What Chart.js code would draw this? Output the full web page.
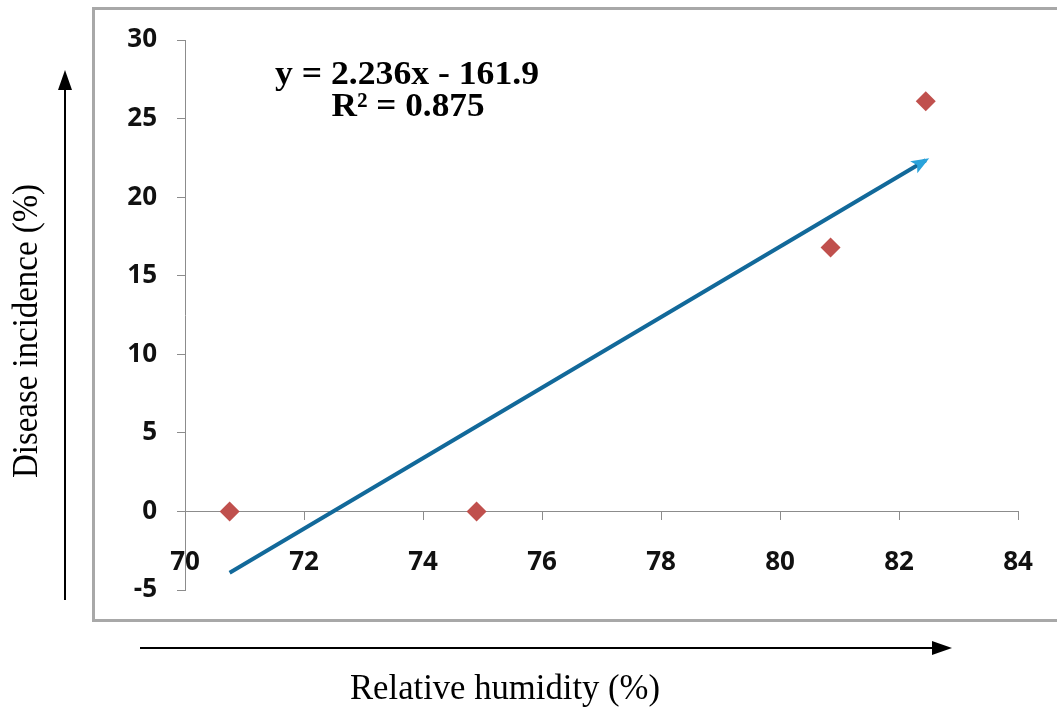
<!DOCTYPE html>
<html>
<head>
<meta charset="utf-8">
<script src="https://cdn.jsdelivr.net/npm/chart.js@4/dist/chart.umd.min.js"></script>
<style>
  html, body { margin: 0; padding: 0; background: #fff; }
  #wrap { width: 1057px; height: 711px; position: relative; }
</style>
</head>
<body>
<div id="wrap"><canvas id="chart"></canvas></div>
<script>
// observed points
const humidity = [70.75, 74.9, 80.85, 82.45];
const incidence = [0, 0, 16.8, 26.1];

// linear trend line, end points
const trendX = [70.75, 82.45];
const trendY = [-3.9, 22.35];

const xTicks = [70, 72, 74, 76, 78, 80, 82, 84];
const yTicks = [-5, 0, 5, 10, 15, 20, 25, 30];

const equationText = 'y = 2.236x - 161.9';
const r2Text = 'R² = 0.875';
const xTitle = 'Relative humidity (%)';
const yTitle = 'Disease incidence (%)';

const axisGray = '#8c8c8c';

const drawArrow = (ctx, x1, y1, x2, y2, headLen, headHalf) => {
  const ang = Math.atan2(y2 - y1, x2 - x1);
  ctx.beginPath();
  ctx.moveTo(x1, y1);
  ctx.lineTo(x2 - Math.cos(ang) * headLen * 0.8, y2 - Math.sin(ang) * headLen * 0.8);
  ctx.stroke();
  ctx.beginPath();
  ctx.moveTo(x2, y2);
  ctx.lineTo(x2 - Math.cos(ang) * headLen - Math.sin(ang) * headHalf,
             y2 - Math.sin(ang) * headLen + Math.cos(ang) * headHalf);
  ctx.lineTo(x2 - Math.cos(ang) * headLen + Math.sin(ang) * headHalf,
             y2 - Math.sin(ang) * headLen - Math.cos(ang) * headHalf);
  ctx.closePath();
  ctx.fill();
};

const fitText = (ctx, text, x, y, width) => {
  const w = ctx.measureText(text).width;
  ctx.save();
  ctx.translate(x, y);
  ctx.scale(width / w, 1);
  ctx.fillText(text, 0, 0);
  ctx.restore();
};

const decorations = {
  id: 'decorations',
  beforeDraw(chart) {
    const ctx = chart.ctx;
    ctx.save();
    ctx.strokeStyle = '#a8a8a8';
    ctx.lineWidth = 3;
    ctx.strokeRect(93.5, 8.5, 1000, 612);
    ctx.restore();
  },
  afterDatasetsDraw(chart) {
    const ctx = chart.ctx;
    // arrow head on the trend line
    const pts = chart.getDatasetMeta(1).data;
    const a = pts[0], b = pts[pts.length - 1];
    const ang = Math.atan2(b.y - a.y, b.x - a.x);
    ctx.save();
    ctx.fillStyle = '#2aa3db';
    ctx.beginPath();
    ctx.moveTo(b.x + Math.cos(ang) * 4, b.y + Math.sin(ang) * 4);
    ctx.lineTo(b.x - Math.cos(ang) * 14 - Math.sin(ang) * 7, b.y - Math.sin(ang) * 14 + Math.cos(ang) * 7);
    ctx.lineTo(b.x - Math.cos(ang) * 10, b.y - Math.sin(ang) * 10);
    ctx.lineTo(b.x - Math.cos(ang) * 14 + Math.sin(ang) * 7, b.y - Math.sin(ang) * 14 - Math.cos(ang) * 7);
    ctx.closePath();
    ctx.fill();
    ctx.restore();
  },
  afterDraw(chart) {
    const ctx = chart.ctx;
    ctx.save();
    // equation label
    ctx.fillStyle = '#000';
    ctx.textAlign = 'center';
    ctx.textBaseline = 'alphabetic';
    ctx.font = 'bold 34px "Liberation Serif", "Times New Roman", serif';
    fitText(ctx, equationText, 407, 84, 264);
    fitText(ctx, r2Text, 408, 116, 153);

    // axis titles with arrows
    ctx.font = '35px "Liberation Serif", "Times New Roman", serif';
    ctx.textBaseline = 'middle';
    ctx.save();
    ctx.translate(28, 331);
    ctx.rotate(-Math.PI / 2);
    fitText(ctx, yTitle, 0, 0, 294);
    ctx.restore();
    fitText(ctx, xTitle, 505, 690, 310);

    ctx.strokeStyle = '#000';
    ctx.fillStyle = '#000';
    ctx.lineWidth = 2;
    drawArrow(ctx, 65, 600, 65, 70, 20, 7);
    drawArrow(ctx, 140, 648, 952, 648, 20, 7);
    ctx.restore();
  }
};

const tickFont = { family: '"Open Sans", Lato, sans-serif', size: 26, weight: 'bold' };

new Chart(document.getElementById('chart'), {
  type: 'scatter',
  data: {
    datasets: [
      {
        label: 'Disease incidence',
        data: humidity.map((x, i) => ({ x: x, y: incidence[i] })),
        pointStyle: 'rectRot',
        pointRadius: 10,
        pointHoverRadius: 10,
        backgroundColor: '#c0504d',
        borderColor: '#c0504d',
        borderWidth: 0,
      },
      {
        type: 'line',
        label: 'Linear trend',
        data: trendX.map((x, i) => ({ x: x, y: trendY[i] })),
        borderColor: '#12699a',
        borderWidth: 4,
        pointRadius: 0,
        fill: false,
      },
    ],
  },
  options: {
    responsive: true,
    maintainAspectRatio: false,
    animation: false,
    layout: { padding: { left: 0, top: 40, right: 39, bottom: 121 } },
    plugins: {
      legend: { display: false },
      tooltip: { enabled: false },
    },
    scales: {
      x: {
        type: 'linear',
        position: { y: 0 },
        min: 70,
        max: 84,
        afterBuildTicks: (scale) => { scale.ticks = xTicks.map((v) => ({ value: v })); },
        afterFit: (scale) => { scale.paddingLeft = 0; scale.paddingRight = 0; },
        ticks: { color: '#111', font: tickFont, padding: 28 },
        grid: { drawOnChartArea: false, tickLength: 8, color: axisGray },
        border: { color: axisGray, width: 1 },
      },
      y: {
        type: 'linear',
        min: -5,
        max: 30,
        afterBuildTicks: (scale) => { scale.ticks = yTicks.map((v) => ({ value: v })); },
        afterFit: (scale) => { scale.width = 185; scale.paddingTop = 0; scale.paddingBottom = 0; },
        ticks: { color: '#111', font: tickFont, padding: 20 },
        grid: { drawOnChartArea: false, tickLength: 8, color: axisGray },
        border: { color: axisGray, width: 1 },
      },
    },
  },
  plugins: [decorations],
});
</script>
</body>
</html>
